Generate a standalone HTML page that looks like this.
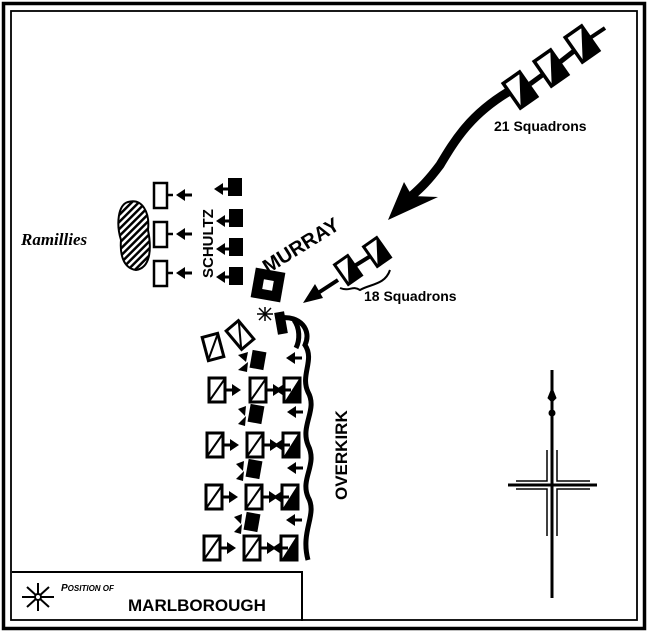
<!DOCTYPE html>
<html><head><meta charset="utf-8"><style>
html,body{margin:0;padding:0;background:#fff}
svg{display:block}
text{font-family:"Liberation Sans",sans-serif;font-weight:bold;fill:#000}
</style></head><body>
<svg width="648" height="634" viewBox="0 0 648 634" xmlns="http://www.w3.org/2000/svg">
<defs>
<g id="u"><rect x="-8" y="-12" width="16" height="24" fill="#fff" stroke="#000" stroke-width="3"/><line x1="-7" y1="10" x2="7" y2="-10" stroke="#000" stroke-width="2"/></g>
<g id="ub"><rect x="-8" y="-12" width="16" height="24" fill="#fff" stroke="#000" stroke-width="3"/><polygon points="7,-11 7,11 -7,11" fill="#000"/></g>
<g id="ubl"><rect x="-10" y="-15" width="20" height="30" fill="#fff" stroke="#000" stroke-width="3.5"/><polygon points="9,-14 9,14 -9,14" fill="#000"/></g>
<g id="blk"><rect x="-7" y="-9" width="14" height="18" fill="#000"/></g>
<g id="la"><line x1="0" y1="0" x2="14" y2="0" stroke="#000" stroke-width="3"/><polygon points="-2,0 7,-6 7,6" fill="#000"/></g>
<g id="ra"><line x1="0" y1="0" x2="10" y2="0" stroke="#000" stroke-width="3"/><polygon points="16,0 7,-6 7,6" fill="#000"/></g>
<pattern id="h" width="5" height="5" patternUnits="userSpaceOnUse" patternTransform="rotate(45)"><rect width="5" height="5" fill="#fff"/><rect width="2.5" height="5" fill="#000"/></pattern>
</defs>
<!-- frame -->
<rect x="3.5" y="3.5" width="641" height="625" fill="none" stroke="#000" stroke-width="3.5"/>
<rect x="11" y="11" width="626" height="609" fill="none" stroke="#000" stroke-width="1.8"/>
<!-- legend -->
<path d="M12 572 H302 V621" fill="none" stroke="#000" stroke-width="2"/>
<g transform="translate(38,597)" stroke="#000" stroke-width="2">
<line x1="-16" y1="0" x2="16" y2="0"/><line x1="0" y1="-14" x2="0" y2="14"/><line x1="-11" y1="-10" x2="11" y2="10"/><line x1="-11" y1="10" x2="11" y2="-10"/><circle r="3" fill="#fff"/></g>
<text x="61" y="591" font-size="10" font-style="italic">P<tspan font-size="8">OSITION OF</tspan></text>
<text x="128" y="611" font-size="17">MARLBOROUGH</text>
<!-- compass -->
<g stroke="#000" fill="none">
<line x1="552" y1="370" x2="552" y2="598" stroke-width="3"/>
<path d="M552 388 l-4 10 l4 4 l4 -4 z" fill="#000"/>
<circle cx="552" cy="413" r="3" fill="#000"/>
<line x1="508" y1="485" x2="597" y2="485" stroke-width="3"/>
<path d="M516 481 H547 V450 M557 450 V481 H590 M516 489 H547 V536 M557 536 V489 H590" stroke-width="1.5"/>
</g>
<!-- Ramillies -->
<text x="21" y="245" font-size="17" font-style="italic" style="font-family:'Liberation Serif',serif">Ramillies</text>
<path d="M128 202 C142 198 150 212 148 230 C152 250 150 268 136 270 C122 268 120 252 121 240 C116 224 118 205 128 202Z" fill="url(#h)" stroke="#000" stroke-width="2"/>
<!-- Schultz -->
<g fill="#fff" stroke="#000" stroke-width="2.5">
<rect x="154" y="183" width="13" height="25"/><rect x="154" y="222" width="13" height="25"/><rect x="154" y="261" width="13" height="25"/></g>
<g stroke="#000" stroke-width="2.5"><line x1="167" y1="195" x2="173" y2="195"/><line x1="167" y1="234" x2="173" y2="234"/><line x1="167" y1="273" x2="173" y2="273"/></g>
<use href="#la" x="178" y="195"/><use href="#la" x="178" y="234"/><use href="#la" x="178" y="273"/>
<use href="#la" x="216" y="189"/><use href="#la" x="218" y="221"/><use href="#la" x="218" y="249"/><use href="#la" x="218" y="277"/>
<use href="#blk" x="235" y="187"/><use href="#blk" x="236" y="218"/><use href="#blk" x="236" y="247"/><use href="#blk" x="236" y="276"/>
<text transform="translate(213,278) rotate(-90)" font-size="15">SCHULTZ</text>
<!-- Murray -->
<text transform="translate(268,274) rotate(-32)" font-size="20">MURRAY</text>
<rect x="253" y="270" width="30" height="30" fill="#000" transform="rotate(10 268 285)"/>
<rect x="263" y="280" width="10" height="10" fill="#fff" transform="rotate(10 268 285)"/>
<g transform="translate(265,314)" stroke="#000" stroke-width="1.5"><line x1="-8" y1="0" x2="8" y2="0"/><line x1="0" y1="-7" x2="0" y2="7"/><line x1="-6" y1="-6" x2="6" y2="6"/><line x1="-6" y1="6" x2="6" y2="-6"/></g>
<!-- 21 squadrons -->
<path d="M508 92 C470 115 455 140 440 165 C425 185 418 190 405 202" fill="none" stroke="#000" stroke-width="9"/>
<polygon points="388,220 404,182 412,196 438,197" fill="#000"/>
<g stroke="#000" stroke-width="5"><line x1="530" y1="84" x2="560" y2="62"/><line x1="560" y1="62" x2="588" y2="40"/></g>
<g transform="translate(520,90) rotate(-35)"><use href="#ubl"/></g>
<g transform="translate(551,68) rotate(-35)"><use href="#ubl"/></g>
<g transform="translate(582,44) rotate(-35)"><use href="#ubl"/></g>
<line x1="590" y1="38" x2="605" y2="28" stroke="#000" stroke-width="4"/>
<text x="494" y="131" font-size="14">21 Squadrons</text>
<!-- 18 squadrons -->
<line x1="348" y1="270" x2="377" y2="252" stroke="#000" stroke-width="4"/>
<g transform="translate(348,270) rotate(-35)"><use href="#ub"/></g>
<g transform="translate(377,252) rotate(-35)"><use href="#ub"/></g>
<line x1="338" y1="280" x2="318" y2="293" stroke="#000" stroke-width="4"/>
<polygon points="303,303 315,284 323,298" fill="#000"/>
<path d="M340 288 C350 292 352 285 360 290 C370 284 385 285 390 270" fill="none" stroke="#000" stroke-width="2"/>
<text x="364" y="301" font-size="14">18 Squadrons</text>
<!-- Overkirk wavy front -->
<path d="M280 318 C300 315 312 330 305 345 C315 360 300 375 308 392 C318 410 300 425 308 445 C318 465 300 478 308 497 C318 515 300 530 308 560" fill="none" stroke="#000" stroke-width="5"/>
<path d="M294 320 C300 328 300 340 296 348" fill="none" stroke="#000" stroke-width="5"/>
<text transform="translate(347,500) rotate(-90)" font-size="17">OVERKIRK</text>
<!-- rows -->
<g transform="translate(213,347) rotate(-15)"><use href="#u"/></g>
<g transform="translate(240,335) rotate(-40)"><use href="#u"/></g>
<rect x="276" y="312" width="10" height="22" fill="#000" transform="rotate(-10 281 323)"/>
<use href="#u" x="217" y="390"/><use href="#u" x="258" y="390"/><use href="#ub" x="292" y="390"/>
<use href="#u" x="215" y="445"/><use href="#u" x="255" y="445"/><use href="#ub" x="291" y="445"/>
<use href="#u" x="214" y="497"/><use href="#u" x="254" y="497"/><use href="#ub" x="290" y="497"/>
<use href="#u" x="212" y="548"/><use href="#u" x="252" y="548"/><use href="#ub" x="289" y="548"/>
<g>
<use href="#ra" x="225" y="390"/><use href="#ra" x="266" y="390"/>
<use href="#ra" x="223" y="445"/><use href="#ra" x="263" y="445"/>
<use href="#ra" x="222" y="497"/><use href="#ra" x="262" y="497"/>
<use href="#ra" x="220" y="548"/><use href="#ra" x="260" y="548"/>
<use href="#la" x="277" y="390"/><use href="#la" x="276" y="445"/><use href="#la" x="275" y="497"/><use href="#la" x="274" y="548"/>
<use href="#la" x="288" y="358"/><use href="#la" x="289" y="412"/><use href="#la" x="289" y="468"/><use href="#la" x="288" y="520"/>
</g>
<g transform="translate(258,360) rotate(10)"><use href="#blk"/></g>
<g transform="translate(256,414) rotate(10)"><use href="#blk"/></g>
<g transform="translate(254,469) rotate(10)"><use href="#blk"/></g>
<g transform="translate(252,522) rotate(10)"><use href="#blk"/></g>
<g fill="#000"><polygon points="238,355 248,352 246,362"/><polygon points="238,370 248,362 247,372"/>
<polygon points="238,409 246,406 245,416"/><polygon points="238,424 246,416 245,426"/>
<polygon points="236,464 244,461 243,471"/><polygon points="236,479 244,471 243,481"/>
<polygon points="234,517 242,514 241,524"/><polygon points="234,532 242,524 241,534"/></g>
</svg>
</body></html>
